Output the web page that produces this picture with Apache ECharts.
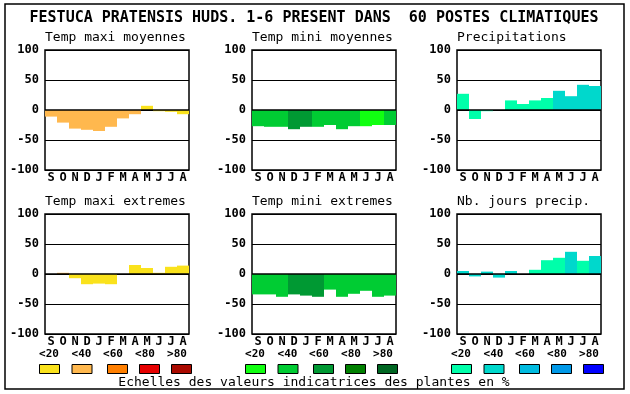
<!DOCTYPE html>
<html><head><meta charset="utf-8">
<script src="https://cdn.jsdelivr.net/npm/echarts@6/dist/echarts.min.js"></script>
<style>html,body{margin:0;padding:0;background:#fff}#c{width:630px;height:394px}</style>
</head><body><div id="c"></div>
<script>
var months = ['S','O','N','D','J','F','M','A','M','J','J','A'];
var yTicks = [-100, -50, 0, 50, 100];
var scaleLabels = ['<20','<40','<60','<80','>80'];

var tempPalette = ['#FAE21C','#FFB84E','#FF7F00','#E60000','#AA0A00'];
var greenPalette = ['#11FF11','#00CC33','#009933','#008000','#006622'];
var bluePalette = ['#00FFAA','#00D8CC','#00BBE0','#0099E8','#0000FF'];

var panelTitles = ['Temp maxi moyennes','Temp mini moyennes','Precipitations',
                   'Temp maxi extremes','Temp mini extremes','Nb. jours precip.'];

var tmaxMoyValues = [-11,-21,-31,-33,-35,-28,-14,-7,7,-2,-3,-7];
var tmaxMoyClass  = [1,1,1,1,1,1,1,1,0,0,0,0];
var tminMoyValues = [-27,-28,-28,-32,-28,-28,-25,-32,-27,-27,-25,-25];
var tminMoyClass  = [1,1,1,2,2,1,1,1,1,0,0,1];
var precipValues  = [27,-15,-2,null,16,10,16,20,32,23,42,40];
var precipClass   = [0,0,0,0,0,0,0,0,1,1,1,1];
var tmaxExtValues = [null,2,-7,-17,-16,-17,null,15,10,2,12,14];
var tmaxExtClass  = [0,1,0,0,0,0,0,0,0,0,0,0];
var tminExtValues = [-34,-34,-38,-34,-36,-38,-26,-38,-33,-28,-38,-36];
var tminExtClass  = [1,1,1,2,2,2,1,1,1,1,1,1];
var joursValues   = [5,-4,4,-6,5,null,7,23,27,37,22,30];
var joursClass    = [1,1,1,1,1,0,0,0,0,1,0,1];

var mainTitle = 'FESTUCA PRATENSIS HUDS. 1-6 PRESENT DANS  60 POSTES CLIMATIQUES';
var footText = 'Echelles des valeurs indicatrices des plantes en %';

var panels = [
  {v: tmaxMoyValues, c: tmaxMoyClass, p: tempPalette},
  {v: tminMoyValues, c: tminMoyClass, p: greenPalette},
  {v: precipValues, c: precipClass, p: bluePalette},
  {v: tmaxExtValues, c: tmaxExtClass, p: tempPalette},
  {v: tminExtValues, c: tminExtClass, p: greenPalette},
  {v: joursValues, c: joursClass, p: bluePalette}
];

var FONT = '"DejaVu Sans Mono", "Liberation Mono", monospace';
var lefts = [45, 252, 457];
var tops = [50, 214];
var grids = [], xAxes = [], yAxes = [], series = [], graphics = [];

panels.forEach(function (pn, i) {
  var col = i % 3, row = Math.floor(i / 3);
  grids.push({left: lefts[col], top: tops[row], width: 144, height: 120,
    show: true, borderColor: '#000', borderWidth: 1.5, backgroundColor: '#fff', containLabel: false});
  xAxes.push({type: 'category', gridIndex: i, data: months, boundaryGap: true,
    axisLine: {show: false}, axisTick: {show: false}, splitLine: {show: false},
    axisLabel: {interval: 0, margin: 2, color: '#000', fontFamily: FONT, fontWeight: 'bold', fontSize: 12}});
  yAxes.push({type: 'value', gridIndex: i, min: yTicks[0], max: yTicks[yTicks.length - 1], interval: 50,
    axisLine: {show: false}, axisTick: {show: false},
    splitLine: {show: true, lineStyle: {color: '#000', width: 1}},
    axisLabel: {margin: 6, color: '#000', fontFamily: FONT, fontWeight: 'bold', fontSize: 12}});
  series.push({type: 'bar', xAxisIndex: i, yAxisIndex: i, barCategoryGap: '0%', barGap: '0%',
    animation: false,
    data: pn.v.map(function (v, k) {
      return v === null ? '-' : {value: v, itemStyle: {color: pn.p[pn.c[k]]}};
    }),
    markLine: {silent: true, symbol: 'none', animation: false, label: {show: false},
      lineStyle: {color: '#000', width: 1.5, type: 'solid'}, data: [{yAxis: 0}]}
  });
  graphics.push({type: 'text', left: lefts[col], top: row === 0 ? 31 : 195,
    style: {text: panelTitles[i], font: '13px ' + FONT, fill: '#000'}});
});

// outer frame
graphics.push({type: 'rect', shape: {x: 5, y: 4, width: 619, height: 385},
  style: {fill: 'none', stroke: '#000', lineWidth: 1.5}, z: -1});
graphics.push({type: 'text', x: 314, y: 18,
  style: {text: mainTitle, font: 'bold 15px ' + FONT, fill: '#000', align: 'center', verticalAlign: 'middle'}});
graphics.push({type: 'text', x: 314, y: 383,
  style: {text: footText, font: '13px ' + FONT, fill: '#000', align: 'center', verticalAlign: 'middle'}});

// colour scale legend
var groupStarts = [39, 245, 451];
var labelOffsets = [0, 32.5, 64, 96, 128];
var boxOffsets = [0, 32.5, 68, 100, 132];
var palettes = [tempPalette, greenPalette, bluePalette];
groupStarts.forEach(function (gx, g) {
  scaleLabels.forEach(function (lab, k) {
    graphics.push({type: 'text', x: gx + labelOffsets[k] + 10, y: 354,
      style: {text: lab, font: 'bold 11px ' + FONT, fill: '#000', align: 'center', verticalAlign: 'middle'}});
    graphics.push({type: 'rect', shape: {x: gx + boxOffsets[k] + 0.5, y: 364.5, width: 20, height: 9},
      style: {fill: palettes[g][k], stroke: '#000', lineWidth: 1}});
  });
});

var chart = echarts.init(document.getElementById('c'), null, {renderer: 'canvas'});
chart.setOption({
  animation: false,
  backgroundColor: '#fff',
  grid: grids, xAxis: xAxes, yAxis: yAxes, series: series,
  graphic: graphics
});
</script></body></html>
